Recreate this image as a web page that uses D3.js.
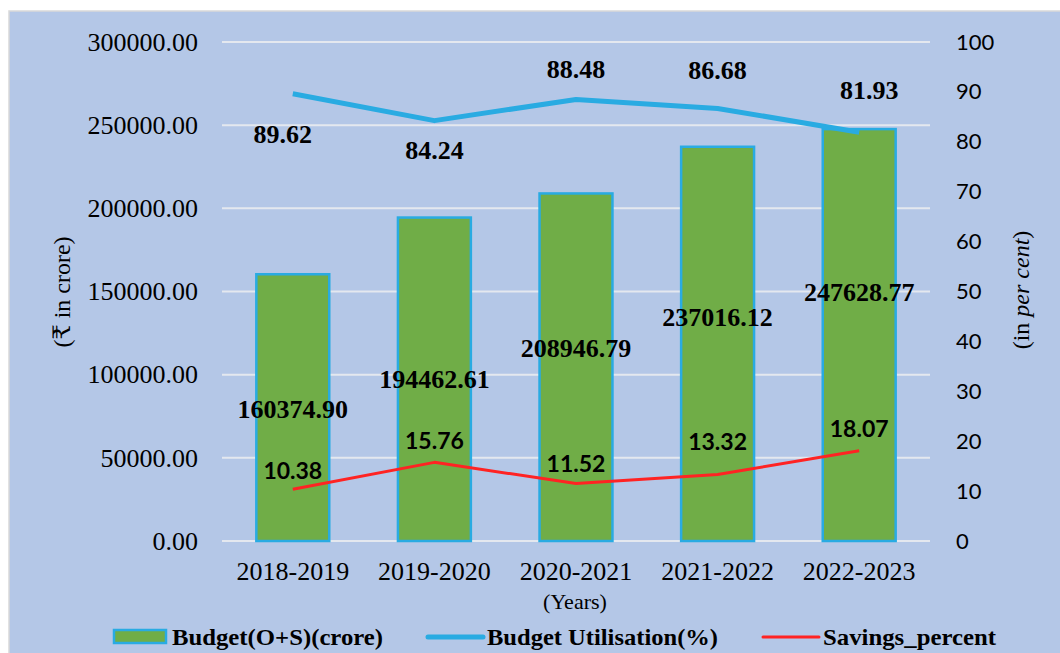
<!DOCTYPE html>
<html>
<head>
<meta charset="utf-8">
<script src="https://cdn.jsdelivr.net/npm/d3@7.9.0/dist/d3.min.js"></script>
<style>
  body { margin: 0; background: #fff; }
  svg { display: block; }
</style>
</head>
<body>
<svg id="chart" width="1060" height="653"></svg>
<script>
// data
const years = ['2018-2019', '2019-2020', '2020-2021', '2021-2022', '2022-2023'];
const budget = [160374.90, 194462.61, 208946.79, 237016.12, 247628.77];
const utilisation = [89.62, 84.24, 88.48, 86.68, 81.93];
const savings = [10.38, 15.76, 11.52, 13.32, 18.07];
const leftTicks = [0, 50000, 100000, 150000, 200000, 250000, 300000];
const rightTicks = [0, 10, 20, 30, 40, 50, 60, 70, 80, 90, 100];

// label nudges (px), like the hand-moved labels in the original
const budgetLabelShift = [2, 0, -19, -26, -43];
const utilLabelShift = [41, 30, -30, -38, -42];
const savingsLabelShift = [-19, -22, -21, -34, -23];

const svg = d3.select('#chart');
const plotLeft = 222, plotRight = 930, plotTop = 42, plotBottom = 541;

svg.append('rect')
    .attr('x', 9).attr('y', 11)
    .attr('width', 1060).attr('height', 660)
    .attr('fill', '#b4c7e7')
    .attr('stroke', '#d9d9d9').attr('stroke-width', 1.5);

let x = d3.scaleBand().domain(years).range([plotLeft, plotRight])
    .paddingInner(0.485).paddingOuter(0.2425);
let yL = d3.scaleLinear().domain([0, 300000]).range([plotBottom, plotTop]);
let yR = d3.scaleLinear().domain([0, 100]).range([plotBottom, plotTop]);

// gridlines
svg.append('g')
    .selectAll('line')
    .data(leftTicks)
    .enter()
    .append('line')
    .attr('x1', plotLeft).attr('x2', plotRight)
    .attr('y1', d => yL(d)).attr('y2', d => yL(d))
    .attr('stroke', '#e4e8ef').attr('stroke-width', 2);

// left axis
let leftAxis = svg.append('g')
    .attr('transform', `translate(${plotLeft - 24},0)`)
    .call(d3.axisLeft(yL).tickValues(leftTicks).tickFormat(d3.format('.2f')).tickSize(0));
leftAxis.select('.domain').remove();
leftAxis.selectAll('text')
    .attr('font-family', '"Liberation Serif", "Times New Roman", serif')
    .attr('font-size', 26).attr('fill', '#000').attr('x', 0);

// right axis
let rightAxis = svg.append('g')
    .attr('transform', `translate(${plotRight + 26},0)`)
    .call(d3.axisRight(yR).tickValues(rightTicks).tickSize(0));
rightAxis.select('.domain').remove();
rightAxis.selectAll('text')
    .attr('font-family', 'Lato, "Open Sans", sans-serif')
    .attr('font-size', 22).attr('fill', '#000').attr('x', 0);

// x axis labels
let xAxis = svg.append('g')
    .attr('transform', `translate(0,${plotBottom + 18})`)
    .call(d3.axisBottom(x).tickSize(0));
xAxis.select('.domain').remove();
xAxis.selectAll('text')
    .attr('font-family', '"Liberation Serif", "Times New Roman", serif')
    .attr('font-size', 26).attr('fill', '#000');

svg.append('text')
    .attr('x', (plotLeft + plotRight) / 2 - 1).attr('y', 601)
    .attr('text-anchor', 'middle').attr('dominant-baseline', 'central')
    .attr('font-family', '"Liberation Serif", serif').attr('font-size', 22)
    .text('(Years)');

// axis titles
svg.append('text')
    .attr('transform', 'translate(62,292) rotate(-90)')
    .attr('text-anchor', 'middle').attr('dominant-baseline', 'central')
    .attr('font-family', '"Liberation Serif", "DejaVu Serif", serif').attr('font-size', 24)
    .text('(₹ in crore)');

let rt = svg.append('text')
    .attr('transform', 'translate(1021,290) rotate(-90)')
    .attr('text-anchor', 'middle').attr('dominant-baseline', 'central')
    .attr('font-family', '"Liberation Serif", serif').attr('font-size', 24);
rt.append('tspan').text('(in ');
rt.append('tspan').attr('font-style', 'italic').text('per cent');
rt.append('tspan').text(')');

// bars
svg.append('g')
    .selectAll('rect')
    .data(budget)
    .enter()
    .append('rect')
    .attr('x', (d, i) => x(years[i]))
    .attr('y', d => yL(d))
    .attr('width', x.bandwidth())
    .attr('height', d => plotBottom - yL(d))
    .attr('fill', '#70ad47')
    .attr('stroke', '#29abe2').attr('stroke-width', 2.5);

// lines
let cx = i => x(years[i]) + x.bandwidth() / 2;
let pctLine = d3.line().x((d, i) => cx(i)).y(d => yR(d));
svg.append('path')
    .attr('d', pctLine(utilisation))
    .attr('fill', 'none').attr('stroke', '#29abe2')
    .attr('stroke-width', 5).attr('stroke-linejoin', 'round');

svg.append('path')
    .attr('d', pctLine(savings))
    .attr('fill', 'none').attr('stroke', '#ff2323')
    .attr('stroke-width', 3).attr('stroke-linejoin', 'round');

// data labels
svg.append('g')
    .selectAll('text')
    .data(budget)
    .enter()
    .append('text')
    .attr('x', (d, i) => cx(i))
    .attr('y', (d, i) => (yL(d) + plotBottom) / 2 + budgetLabelShift[i])
    .attr('text-anchor', 'middle').attr('dominant-baseline', 'central')
    .attr('font-family', '"Liberation Serif", serif').attr('font-weight', 'bold')
    .attr('font-size', 26)
    .text(d => d.toFixed(2));

svg.append('g')
    .selectAll('text')
    .data(utilisation)
    .enter()
    .append('text')
    .attr('x', (d, i) => cx(i) + (i === 0 ? -10 : i === 4 ? 10 : 0))
    .attr('y', (d, i) => yR(d) + utilLabelShift[i])
    .attr('text-anchor', 'middle').attr('dominant-baseline', 'central')
    .attr('font-family', '"Liberation Serif", serif').attr('font-weight', 'bold')
    .attr('font-size', 26)
    .text(d => d.toFixed(2));

svg.append('g')
    .selectAll('text')
    .data(savings)
    .enter()
    .append('text')
    .attr('x', (d, i) => cx(i))
    .attr('y', (d, i) => yR(d) + savingsLabelShift[i])
    .attr('text-anchor', 'middle').attr('dominant-baseline', 'central')
    .attr('font-family', 'Lato, "Open Sans", sans-serif').attr('font-weight', 'bold')
    .attr('font-size', 23)
    .text(d => d.toFixed(2));

// legend
let legend = svg.append('g').attr('font-family', '"Liberation Serif", serif')
    .attr('font-weight', 'bold').attr('font-size', 24);
legend.append('rect')
    .attr('x', 114).attr('y', 630).attr('width', 52).attr('height', 13)
    .attr('fill', '#70ad47').attr('stroke', '#29abe2').attr('stroke-width', 2.5);
legend.append('text').attr('x', 172).attr('y', 637).attr('dominant-baseline', 'central')
    .attr('textLength', 211).attr('lengthAdjust', 'spacingAndGlyphs')
    .text('Budget(O+S)(crore)');
legend.append('line').attr('x1', 428).attr('x2', 483).attr('y1', 637).attr('y2', 637)
    .attr('stroke', '#29abe2').attr('stroke-width', 5).attr('stroke-linecap', 'round');
legend.append('text').attr('x', 487).attr('y', 637).attr('dominant-baseline', 'central')
    .attr('textLength', 231).attr('lengthAdjust', 'spacingAndGlyphs')
    .text('Budget Utilisation(%)');
legend.append('line').attr('x1', 763).attr('x2', 819).attr('y1', 637).attr('y2', 637)
    .attr('stroke', '#ff2323').attr('stroke-width', 3).attr('stroke-linecap', 'round');
legend.append('text').attr('x', 823).attr('y', 637).attr('dominant-baseline', 'central')
    .attr('textLength', 173).attr('lengthAdjust', 'spacingAndGlyphs')
    .text('Savings_percent');
</script>
</body>
</html>
